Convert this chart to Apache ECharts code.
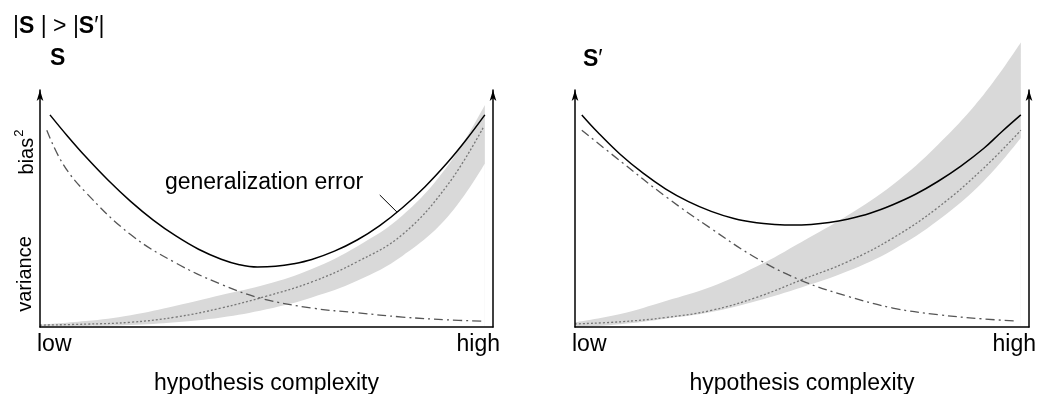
<!DOCTYPE html>
<html><head><meta charset="utf-8">
<script src="https://cdn.jsdelivr.net/npm/echarts@6/dist/echarts.min.js"></script>
<style>html,body{margin:0;padding:0;background:#fff}#c{width:1041px;height:394px}</style>
</head><body><div id="c"></div>
<script>
// ---- data (x: 0 = low, 1 = high hypothesis complexity) ----
const xTicks = ['low', 'high'];
const xName = 'hypothesis complexity';

// left panel: S
const xErrL  = [0.022, 0.06, 0.1, 0.15, 0.2, 0.25, 0.3, 0.35, 0.4, 0.44, 0.48, 0.52, 0.56, 0.6, 0.65, 0.7, 0.75, 0.8, 0.85, 0.9, 0.94, 0.982];
const errL   = [0.895, 0.807, 0.72, 0.62, 0.53, 0.451, 0.384, 0.328, 0.286, 0.263, 0.253, 0.256, 0.267, 0.285, 0.32, 0.367, 0.428, 0.503, 0.592, 0.695, 0.788, 0.895];
const xBiasL = [0.015, 0.05, 0.1, 0.2, 0.3, 0.4, 0.49, 0.6, 0.7, 0.8, 0.9, 0.975];
const biasL  = [0.83, 0.69, 0.57, 0.39, 0.27, 0.18, 0.12, 0.08, 0.06, 0.042, 0.03, 0.025];
const xVarL  = [0, 0.1, 0.2, 0.3, 0.4, 0.5, 0.6, 0.7, 0.8, 0.9, 0.978];
const varL   = [0.008, 0.012, 0.02, 0.042, 0.08, 0.13, 0.19, 0.275, 0.39, 0.6, 0.84];
const xBandL = [0, 0.1, 0.2, 0.3, 0.4, 0.5, 0.6, 0.7, 0.8, 0.9, 0.982];
const bandLoL = [0.002, 0.004, 0.008, 0.02, 0.04, 0.075, 0.125, 0.195, 0.3, 0.465, 0.69];
const bandHiL = [0.01, 0.025, 0.05, 0.09, 0.135, 0.18, 0.245, 0.34, 0.47, 0.68, 0.937];
const leaderFrom = [0.75, 0.557];
const leaderTo   = [0.788, 0.485];

// right panel: S'
const xErrR  = [0.015, 0.05, 0.1, 0.15, 0.2, 0.25, 0.3, 0.35, 0.4, 0.44, 0.48, 0.52, 0.56, 0.6, 0.65, 0.7, 0.75, 0.8, 0.85, 0.9, 0.94, 0.982];
const errR   = [0.895, 0.822, 0.728, 0.649, 0.582, 0.529, 0.488, 0.458, 0.44, 0.433, 0.43, 0.433, 0.441, 0.455, 0.48, 0.516, 0.56, 0.615, 0.679, 0.753, 0.824, 0.895];
const xBiasR = [0.015, 0.1, 0.2, 0.3, 0.4, 0.5, 0.6, 0.7, 0.8, 0.9, 0.975];
const biasR  = [0.83, 0.7, 0.55, 0.415, 0.29, 0.195, 0.13, 0.08, 0.052, 0.034, 0.025];
const xVarR  = [0, 0.1, 0.2, 0.3, 0.4, 0.5, 0.6, 0.7, 0.8, 0.9, 0.982];
const varR   = [0.013, 0.022, 0.04, 0.07, 0.125, 0.2, 0.275, 0.375, 0.505, 0.67, 0.83];
const xBandR = [0, 0.1, 0.2, 0.3, 0.4, 0.5, 0.6, 0.7, 0.8, 0.9, 0.982];
const bandLoR = [0.0, 0.012, 0.035, 0.063, 0.11, 0.168, 0.235, 0.325, 0.45, 0.615, 0.797];
const bandHiR = [0.02, 0.055, 0.11, 0.17, 0.255, 0.36, 0.47, 0.6, 0.77, 0.98, 1.2];

// ---- chart ----
const FONT = '"Liberation Sans", Arial, Helvetica, sans-serif';
const YMAX = 1;
function pts(xs, ys) { return xs.map((x, i) => [x, ys[i]]); }

function xAxisCfg(g) {
  return {
    gridIndex: g, type: 'value', min: 0, max: 1, interval: 1, z: 10,
    axisLine: { onZero: false, lineStyle: { color: '#000', width: 1.5 } },
    axisTick: { show: false }, splitLine: { show: false },
    axisLabel: {
      formatter: v => v === 0 ? '{l|' + xTicks[0] + '}' : (v === 1 ? '{h|' + xTicks[1] + '}' : ''),
      fontSize: 23, color: '#000', fontFamily: FONT, margin: 6,
      alignMinLabel: 'left', alignMaxLabel: 'right',
      rich: {
        l: { fontSize: 23, color: '#000', fontFamily: FONT, padding: [0, 0, 0, -3] },
        h: { fontSize: 23, color: '#000', fontFamily: FONT, padding: [0, -7, 0, 0] }
      }
    },
    name: xName, nameLocation: 'middle', nameGap: 45,
    nameTextStyle: { fontSize: 23, color: '#000', fontFamily: FONT }
  };
}
function yAxisCfg(g, pos) {
  return {
    gridIndex: g, type: 'value', position: pos, min: 0, max: YMAX, z: 10,
    axisLine: { show: true, onZero: false, symbol: ['none', 'arrow'], symbolSize: [5, 11],
      lineStyle: { color: '#000', width: 1.5 } },
    axisTick: { show: false }, axisLabel: { show: false }, splitLine: { show: false }
  };
}
// band: upper edge filled grey down to the axis, lower edge filled white on top of it
function bandSeries(g, yi, xs, lo, hi) {
  return [
    { type: 'line', xAxisIndex: g, yAxisIndex: yi, data: pts(xs, hi),
      symbol: 'none', smooth: 0.4, lineStyle: { width: 0, opacity: 0 },
      areaStyle: { color: '#d9d9d9', opacity: 1, origin: 'start' }, silent: true, z: 1, clip: false },
    { type: 'line', xAxisIndex: g, yAxisIndex: yi, data: pts(xs, lo),
      symbol: 'none', smooth: 0.4, lineStyle: { width: 0, opacity: 0 },
      areaStyle: { color: '#ffffff', opacity: 1, origin: 'start' }, silent: true, z: 1, clip: false }
  ];
}
function lineSeries(g, yi, xs, ys, style, extra) {
  return Object.assign({ type: 'line', xAxisIndex: g, yAxisIndex: yi, data: pts(xs, ys),
    symbol: 'none', smooth: 0.4, lineStyle: style, silent: true, z: 3, clip: false }, extra || {});
}
const solid = { color: '#000', width: 1.5, type: 'solid' };
const dashDot = { color: '#555', width: 1.3, type: [9, 4, 2, 4] };
const dotted = { color: '#777', width: 1.3, type: [2, 2] };

const chart = echarts.init(document.getElementById('c'), null, { renderer: 'canvas' });
chart.setOption({
  animation: false,
  backgroundColor: '#fff',
  grid: [
    { left: 40, right: 548, top: 90, bottom: 67, containLabel: false, outerBoundsMode: 'none' },
    { left: 575, right: 12, top: 90, bottom: 67, containLabel: false, outerBoundsMode: 'none' }
  ],
  xAxis: [xAxisCfg(0), xAxisCfg(1)],
  yAxis: [yAxisCfg(0, 'left'), yAxisCfg(0, 'right'), yAxisCfg(1, 'left'), yAxisCfg(1, 'right')],
  series: [
    ...bandSeries(0, 0, xBandL, bandLoL, bandHiL),
    lineSeries(0, 0, xVarL, varL, dotted),
    lineSeries(0, 0, xBiasL, biasL, dashDot),
    lineSeries(0, 0, xErrL, errL, solid, {
      markLine: { silent: true, symbol: ['none', 'none'], label: { show: false },
        lineStyle: { color: '#000', width: 1, type: 'solid' },
        data: [[{ coord: leaderFrom }, { coord: leaderTo }]] }
    }),
    ...bandSeries(1, 2, xBandR, bandLoR, bandHiR),
    lineSeries(1, 2, xVarR, varR, dotted),
    lineSeries(1, 2, xBiasR, biasR, dashDot),
    lineSeries(1, 2, xErrR, errR, solid)
  ],
  graphic: [
    { type: 'text', x: 13, y: 27, style: { text: '|{b|S} | > |{b|S}′|', font: '23px ' + FONT, fill: '#000',
        textAlign: 'left', textVerticalAlign: 'middle',
        rich: { b: { fontWeight: 'bold', fontSize: 23, fontFamily: FONT } } } },
    { type: 'text', x: 50, y: 59, style: { text: 'S', font: 'bold 23px ' + FONT, fill: '#000',
        textAlign: 'left', textVerticalAlign: 'middle' } },
    { type: 'text', x: 583, y: 60, style: { text: '{b|S}′', font: '23px ' + FONT, fill: '#000',
        textAlign: 'left', textVerticalAlign: 'middle',
        rich: { b: { fontWeight: 'bold', fontSize: 23, fontFamily: FONT } } } },
    { type: 'text', x: 25, y: 152, rotation: Math.PI / 2, style: { text: '{a|bias}{s|2}', fill: '#000',
        textAlign: 'center', textVerticalAlign: 'middle',
        rich: { a: { fontSize: 20, fontFamily: FONT, lineHeight: 24, verticalAlign: 'bottom' },
                s: { fontSize: 13, fontFamily: FONT, lineHeight: 24, verticalAlign: 'top', padding: [0, 0, 0, 1] } } } },
    { type: 'text', x: 25, y: 274, rotation: Math.PI / 2, style: { text: 'variance', font: '20px ' + FONT, fill: '#000',
        textAlign: 'center', textVerticalAlign: 'middle' } },
    { type: 'text', x: 264, y: 183, style: { text: 'generalization error', font: '23px ' + FONT, fill: '#000',
        textAlign: 'center', textVerticalAlign: 'middle' } }
  ]
});
</script>
</body></html>
